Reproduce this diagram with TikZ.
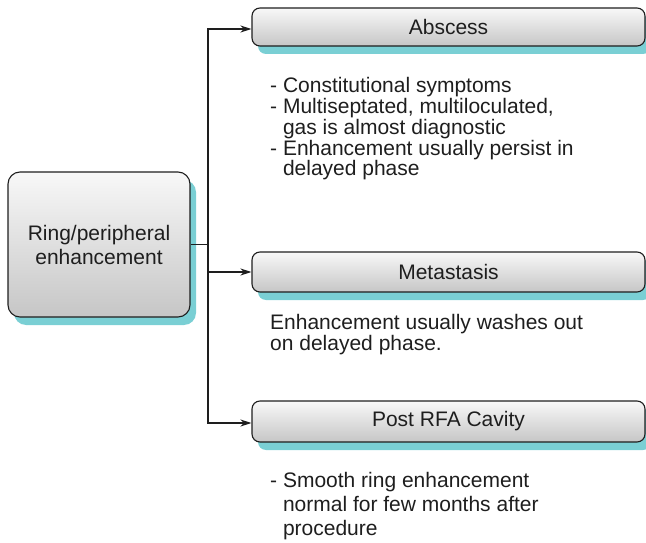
\documentclass[tikz,border=0pt]{standalone}
\usepackage{fontspec}
\setmainfont{Liberation Sans}
\usetikzlibrary{arrows.meta,shadows}
\definecolor{shadowc}{HTML}{7ACFD4}
\definecolor{boxtop}{HTML}{F8F8F8}
\definecolor{boxbot}{HTML}{C6C6C6}
\definecolor{inkc}{HTML}{1E1E1E}
\tikzset{
  box/.style={draw=inkc, line width=1.1pt, rounded corners=8pt, top color=boxtop, bottom color=boxbot,
    general shadow={fill=shadowc, shadow xshift=6pt, shadow yshift=-8pt},
    inner sep=0pt, text=inkc, font=\fontsize{21}{24}\selectfont, align=center},
  bigbox/.style={box, rounded corners=12pt},
  note/.style={anchor=base west, inner sep=0pt, align=left, text=inkc},
  conn/.style={draw=inkc, line width=1.2pt},
  arr/.style={conn, -{Stealth[length=11pt,width=7pt]}}
}
\begin{document}
\begin{tikzpicture}[x=1pt,y=-1pt]
\useasboundingbox (0,0) rectangle (646,543);
\node[bigbox, minimum width=182pt, minimum height=145pt] (ring) at (99,244.5) {Ring/peripheral\\enhancement};
\node[box, minimum width=393pt, minimum height=38pt] (abs) at (448.5,27) {Abscess};
\node[box, minimum width=393pt, minimum height=40pt] (met) at (448.5,272) {Metastasis};
\node[box, minimum width=393pt, minimum height=41pt] (rfa) at (448.5,421.5) {Post RFA Cavity};
\coordinate (j) at (208,244.5);
\draw[conn] (ring.east) -- (j);
\draw[arr] (j) |- ([yshift=-2pt]abs.west);
\draw[arr] (j) |- (met.west);
\draw[arr] (j) |- ([yshift=-1.5pt]rfa.west);
\node[note, font=\fontsize{21}{20.7}\selectfont] (absn) at (270,175.8)
  {- Constitutional symptoms\\- Multiseptated, multiloculated,\\\hphantom{- }gas is almost diagnostic\\- Enhancement usually persist in\\\hphantom{- }delayed phase};
\node[note, font=\fontsize{21}{21}\selectfont] (metn) at (270,350.5)
  {Enhancement usually washes out\\on delayed phase.};
\node[note, font=\fontsize{21}{24}\selectfont] (rfan) at (270,535)
  {- Smooth ring enhancement\\\hphantom{- }normal for few months after\\\hphantom{- }procedure};
\end{tikzpicture}
\end{document}
